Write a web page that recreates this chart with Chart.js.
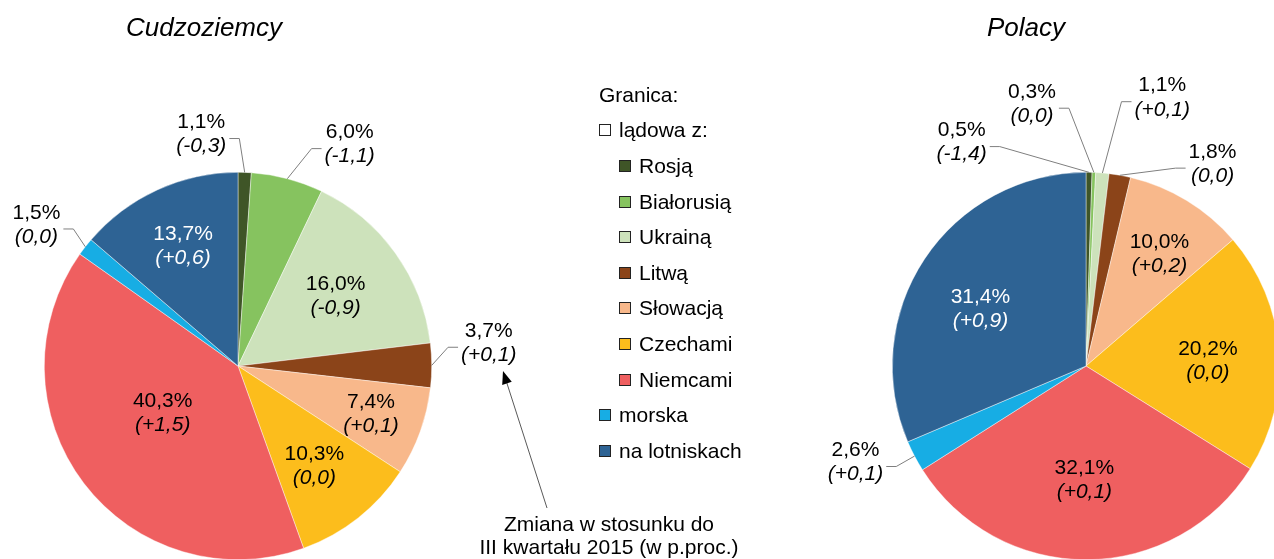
<!DOCTYPE html>
<html lang="pl">
<head>
<meta charset="utf-8">
<script src="https://cdn.jsdelivr.net/npm/chart.js@4.4.1/dist/chart.umd.min.js"></script>
<style>
  html, body { margin: 0; padding: 0; width: 1274px; height: 559px; overflow: hidden; background: #fff;
    font-family: "Liberation Sans", Arial, sans-serif; color: #000; }
  .pane { position: absolute; top: 0; }
  .title { position: absolute; top: 12px; font-size: 26px; font-style: italic; transform: translateX(-50%); white-space: nowrap; }
  #legend { position: absolute; left: 599px; top: 77px; font-size: 21px; }
  #legend .row { height: 35.6px; display: flex; align-items: center; white-space: nowrap; }
  #legend .sw { width: 10px; height: 10px; border: 1px solid #222; margin-right: 8px; }
  #legend .sub { padding-left: 20px; }
  #note { position: absolute; left: 609px; top: 512px; transform: translateX(-50%); font-size: 21px;
    line-height: 23px; text-align: center; white-space: nowrap; }
</style>
</head>
<body>
<div class="pane" style="left:0"><canvas id="left" width="780" height="560"></canvas></div>
<div class="pane" style="left:780px"><canvas id="right" width="500" height="560"></canvas></div>
<div class="title" style="left:204px">Cudzoziemcy</div>
<div class="title" style="left:1026px">Polacy</div>
<div id="legend"></div>
<div id="note">Zmiana w stosunku do<br>III kwartału 2015 (w p.proc.)</div>
<script>
// granica: lądowa z (7), morska, na lotniskach
const categories = ['Rosją', 'Białorusią', 'Ukrainą', 'Litwą', 'Słowacją', 'Czechami', 'Niemcami', 'morska', 'na lotniskach'];
const landCount = 7;
const colors = ['#3f5527', '#86c35f', '#cde2bb', '#8b4419', '#f8b88b', '#fcbd1c', '#ef5f60', '#17ade4', '#2e6394'];

const foreignShare = [1.1, 6.0, 16.0, 3.7, 7.4, 10.3, 40.3, 1.5, 13.7];
const foreignChange = [-0.3, -1.1, -0.9, 0.1, 0.1, 0.0, 1.5, 0.0, 0.6];
const polesShare = [0.5, 0.3, 1.1, 1.8, 10.0, 20.2, 32.1, 2.6, 31.4];
const polesChange = [-1.4, 0.0, 0.1, 0.0, 0.2, 0.0, 0.1, 0.1, 0.9];

// label placement: k = distance as a share of radius, da = angle shift (deg) from slice middle
const foreignPlace = [
  { k: 1.21, da: -11 }, { k: 1.28, da: 12 }, { k: 0.62, da: 0 }, { k: 1.30, da: -5 }, { k: 0.73, da: 0 },
  { k: 0.65, da: 1 }, { k: 0.46, da: 5 }, { k: 1.27, da: -3 }, { k: 0.68, da: 0, white: true }
];
const polesPlace = [
  { k: 1.32, da: -30 }, { k: 1.38, da: -14 }, { k: 1.44, da: 11 }, { k: 1.23, da: 22 }, { k: 0.69, da: 2 },
  { k: 0.63, da: 2 }, { k: 0.59, da: 1 }, { k: 1.29, da: 5 }, { k: 0.62, da: -5, white: true }
];

const FONT = '"Liberation Sans", Arial, sans-serif';

function fmtPct(v) { return v.toFixed(1).replace('.', ',') + '%'; }
function fmtChange(v) {
  const s = Math.abs(v).toFixed(1).replace('.', ',');
  if (v > 0) return '(+' + s + ')';
  if (v < 0) return '(-' + s + ')';
  return '(' + s + ')';
}

const sliceLabels = {
  id: 'sliceLabels',
  afterDatasetsDraw(chart, args, opts) {
    const ctx = chart.ctx;
    const values = chart.data.datasets[0].data;
    chart.getDatasetMeta(0).data.forEach((arc, i) => {
      const p = opts.place[i];
      const { x, y, startAngle, endAngle, outerRadius } =
        arc.getProps(['x', 'y', 'startAngle', 'endAngle', 'outerRadius'], true);
      const mid = (startAngle + endAngle) / 2;
      const a = mid + p.da * Math.PI / 180;
      const lx = x + Math.cos(a) * outerRadius * p.k;
      const ly = y + Math.sin(a) * outerRadius * p.k;
      const top = fmtPct(values[i]);
      const bottom = fmtChange(opts.changes[i]);

      ctx.save();
      ctx.textAlign = 'center';
      ctx.textBaseline = 'middle';
      ctx.fillStyle = p.white ? '#fff' : '#000';
      ctx.font = '21px ' + FONT;
      const w1 = ctx.measureText(top).width;
      ctx.fillText(top, lx, ly - 12);
      ctx.font = 'italic 21px ' + FONT;
      const w2 = ctx.measureText(bottom).width;
      ctx.fillText(bottom, lx, ly + 12);

      if (p.k > 1) {
        const hw = Math.max(w1, w2) / 2 + 3;
        const ex = x + Math.cos(mid) * outerRadius;
        const ey = y + Math.sin(mid) * outerRadius;
        const side = ex < lx ? -1 : 1;
        const sx = lx + side * hw;
        const sy = ly + 4;
        const elbow = sx + side * Math.min(10, Math.abs(ex - sx));
        ctx.strokeStyle = '#7f7f7f';
        ctx.lineWidth = 1;
        ctx.beginPath();
        ctx.moveTo(sx, sy);
        ctx.lineTo(elbow, sy);
        ctx.lineTo(ex, ey);
        ctx.stroke();
      }
      ctx.restore();
    });

    if (opts.arrow) {
      const [x0, y0] = opts.arrow.from;
      const [x1, y1] = opts.arrow.to;
      const ang = Math.atan2(y1 - y0, x1 - x0);
      ctx.save();
      ctx.strokeStyle = '#595959';
      ctx.lineWidth = 1;
      ctx.beginPath();
      ctx.moveTo(x0, y0);
      ctx.lineTo(x1 - Math.cos(ang) * 8, y1 - Math.sin(ang) * 8);
      ctx.stroke();
      ctx.fillStyle = '#000';
      ctx.beginPath();
      ctx.moveTo(x1, y1);
      ctx.lineTo(x1 - Math.cos(ang) * 13 + Math.sin(ang) * 5, y1 - Math.sin(ang) * 13 - Math.cos(ang) * 5);
      ctx.lineTo(x1 - Math.cos(ang) * 13 - Math.sin(ang) * 5, y1 - Math.sin(ang) * 13 + Math.cos(ang) * 5);
      ctx.closePath();
      ctx.fill();
      ctx.restore();
    }
  }
};

function makePie(id, share, change, place, padding, arrow) {
  new Chart(document.getElementById(id), {
    type: 'pie',
    data: {
      labels: categories,
      datasets: [{ data: share, backgroundColor: colors, borderColor: 'rgba(255,255,255,0.7)', borderWidth: 0.6 }]
    },
    options: {
      responsive: false,
      animation: false,
      layout: { padding },
      plugins: {
        legend: { display: false },
        tooltip: { enabled: false },
        sliceLabels: { place, changes: change, arrow }
      }
    },
    plugins: [sliceLabels]
  });
}

makePie('left', foreignShare, foreignChange, foreignPlace,
  { left: 44, right: 348, top: 172, bottom: 0 }, { from: [547, 508], to: [503, 371] });
makePie('right', polesShare, polesChange, polesPlace,
  { left: 112, right: 0, top: 172, bottom: 0 }, null);

// legend
const legend = document.getElementById('legend');
function addRow(text, color, sub) {
  const row = document.createElement('div');
  row.className = 'row' + (sub ? ' sub' : '');
  if (color) {
    const sw = document.createElement('span');
    sw.className = 'sw';
    sw.style.background = color;
    row.appendChild(sw);
  }
  row.appendChild(document.createTextNode(text));
  legend.appendChild(row);
}
addRow('Granica:', null, false);
addRow('lądowa z:', '#ffffff', false);
categories.forEach((c, i) => addRow(c, colors[i], i < landCount));
</script>
</body>
</html>
